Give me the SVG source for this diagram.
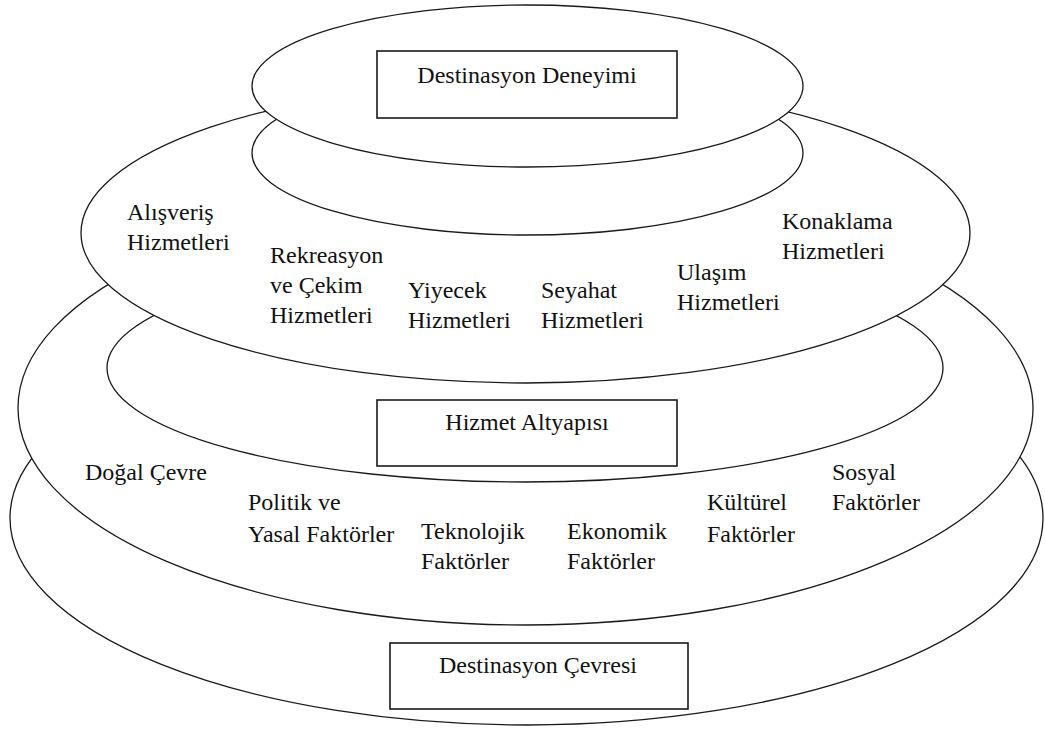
<svg xmlns="http://www.w3.org/2000/svg" width="1045" height="729" viewBox="0 0 1045 729">
  <style>
    .layer { fill: #ffffff; stroke: #1a1a1a; stroke-width: 1.3; }
    .box { fill: #ffffff; stroke: #1a1a1a; stroke-width: 1.6; }
    .lbl { font-family: 'Liberation Serif', 'Times New Roman', serif; font-size: 24px; fill: #111111; }
    .mid { text-anchor: middle; }
  </style>
  <rect width="1045" height="729" fill="#ffffff"/>

  <!-- Destination environment: outermost base layer -->
  <g id="destinasyon-cevresi">
    <ellipse class="layer" cx="526.5" cy="518" rx="516.5" ry="207"/>
    <rect class="box" x="390" y="643" width="298" height="66"/>
    <text class="lbl mid" x="538" y="673">Destinasyon Çevresi</text>
  </g>

  <!-- Environmental factors ring -->
  <g id="cevre-faktorleri" class="lbl">
    <ellipse class="layer" cx="525.5" cy="408" rx="507.5" ry="217"/>
    <text x="85" y="480">Doğal Çevre</text>
    <text x="248" y="510">Politik ve</text>
    <text x="248" y="542">Yasal Faktörler</text>
    <text x="421" y="539">Teknolojik</text>
    <text x="421" y="569">Faktörler</text>
    <text x="567" y="539">Ekonomik</text>
    <text x="567" y="569">Faktörler</text>
    <text x="707" y="510">Kültürel</text>
    <text x="707" y="542">Faktörler</text>
    <text x="832" y="480">Sosyal</text>
    <text x="832" y="510">Faktörler</text>
  </g>

  <!-- Service infrastructure layer -->
  <g id="hizmet-altyapisi">
    <ellipse class="layer" cx="525" cy="368" rx="418" ry="114"/>
    <rect class="box" x="377" y="400" width="300" height="66"/>
    <text class="lbl mid" x="527" y="430">Hizmet Altyapısı</text>
  </g>

  <!-- Services ring -->
  <g id="hizmetler" class="lbl">
    <ellipse class="layer" cx="525.5" cy="233" rx="444.5" ry="150"/>
    <text x="127" y="220">Alışveriş</text>
    <text x="127" y="250">Hizmetleri</text>
    <text x="270" y="263">Rekreasyon</text>
    <text x="270" y="293">ve Çekim</text>
    <text x="270" y="323">Hizmetleri</text>
    <text x="408" y="298">Yiyecek</text>
    <text x="408" y="328">Hizmetleri</text>
    <text x="541" y="298">Seyahat</text>
    <text x="541" y="328">Hizmetleri</text>
    <text x="677" y="280">Ulaşım</text>
    <text x="677" y="310">Hizmetleri</text>
    <text x="782" y="229">Konaklama</text>
    <text x="782" y="259">Hizmetleri</text>
  </g>

  <!-- Experience stack: lower disc and top disc -->
  <g id="deneyim-alt">
    <ellipse class="layer" cx="527.5" cy="153" rx="275.5" ry="82"/>
  </g>
  <g id="destinasyon-deneyimi">
    <ellipse class="layer" cx="527.5" cy="86" rx="275.5" ry="81"/>
    <rect class="box" x="377" y="51" width="300" height="67"/>
    <text class="lbl mid" x="527" y="83">Destinasyon Deneyimi</text>
  </g>
</svg>
